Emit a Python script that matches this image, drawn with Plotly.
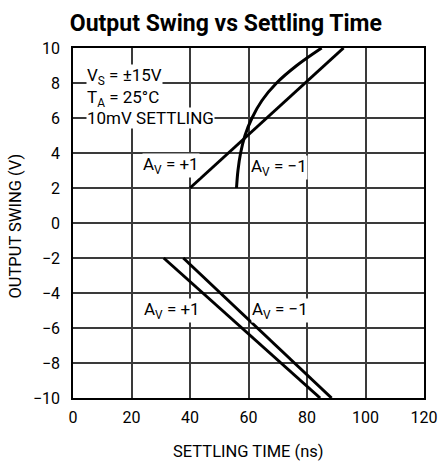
import plotly.graph_objects as go

# Data
up_p1_x = [40, 92.5]
up_p1_y = [2, 10]
up_m1_x = [55.9, 56.4, 57.3, 58.8, 61.2, 64.6, 69.6, 76.5, 85.0]
up_m1_y = [2, 3, 4, 5, 6, 7, 8, 9, 10]
lo_p1_x = [31, 84.5]
lo_p1_y = [-2, -10]
lo_m1_x = [37.7, 88.4]
lo_m1_y = [-2, -10]

x_range = [0, 120]
y_range = [-10, 10]
x_ticks = [0, 20, 40, 60, 80, 100, 120]
x_ticktext = ["0", "20", "40", "60", "80", "100", "120"]
y_ticks = [10, 8, 6, 4, 2, 0, -2, -4, -6, -8, -10]
y_ticktext = ["10", "8", "6", "4", "2", "0", "\u22122", "\u22124", "\u22126", "\u22128", "\u221210"]

FONT = "Roboto, Liberation Sans, sans-serif"

fig = go.Figure()

line = dict(color="black", width=3)
fig.add_trace(go.Scatter(x=up_p1_x, y=up_p1_y, mode="lines", line=line))
fig.add_trace(go.Scatter(x=up_m1_x, y=up_m1_y, mode="lines",
                         line=dict(color="black", width=3, shape="spline", smoothing=1.0)))
fig.add_trace(go.Scatter(x=lo_p1_x, y=lo_p1_y, mode="lines", line=line))
fig.add_trace(go.Scatter(x=lo_m1_x, y=lo_m1_y, mode="lines", line=line))

tfont = dict(family=FONT, size=17, color="black")
ann = [
    dict(x=4.3, y=8.35, text="V<sub>S</sub> = \u00b115V", xanchor="left"),
    dict(x=4.3, y=7.13, text="T<sub>A</sub> = 25\u00b0C", xanchor="left"),
    dict(x=4.3, y=5.99, text="10mV SETTLING", xanchor="left"),
    dict(x=33.4, y=3.3, text="A<sub>V</sub> = +1", xanchor="center"),
    dict(x=70.3, y=3.2, text="A<sub>V</sub> = \u22121", xanchor="center"),
    dict(x=34.0, y=-5.0, text="A<sub>V</sub> = +1", xanchor="center"),
    dict(x=70.6, y=-5.0, text="A<sub>V</sub> = \u22121", xanchor="center"),
]
for a in ann:
    fig.add_annotation(xref="x", yref="y", showarrow=False, yanchor="middle",
                       bgcolor="white", borderpad=0, font=tfont, **a)

# axis titles
afont = dict(family=FONT, size=16.5, color="black")
fig.add_annotation(xref="paper", yref="paper", x=0.5, y=-0.152, text="SETTLING TIME (ns)",
                   showarrow=False, font=afont, xanchor="center", yanchor="middle")
fig.add_annotation(xref="paper", yref="paper", x=-0.165, y=0.49, text="OUTPUT SWING (V)",
                   showarrow=False, font=afont, textangle=-90, xanchor="center", yanchor="middle")

axis_common = dict(tickmode="array", showgrid=True, gridcolor="#3a3a3a", gridwidth=1.6,
                   zeroline=False, showline=True, linecolor="black", linewidth=1.5,
                   mirror=True, ticks="outside", tickcolor="rgba(0,0,0,0)", automargin=False,
                   layer="below traces",
                   tickfont=dict(family=FONT, size=16, color="black"))

fig.update_layout(
    width=440, height=465,
    margin=dict(l=73, r=16, t=48, b=67),
    paper_bgcolor="white", plot_bgcolor="white",
    showlegend=False,
    title=dict(text="<b>Output Swing vs Settling Time</b>", x=0.4355, xref="paper",
               y=1 - 23 / 465, yref="container", xanchor="center", yanchor="middle",
               font=dict(family=FONT, size=23, color="black")),
    xaxis=dict(range=x_range, tickvals=x_ticks, ticktext=x_ticktext,
               ticklen=4, **axis_common),
    yaxis=dict(range=y_range, tickvals=y_ticks, ticktext=y_ticktext,
               ticklen=8, **axis_common),
)

fig.write_html("out.html", config={"displayModeBar": False},
               post_script="document.body.style.margin='0px';")
